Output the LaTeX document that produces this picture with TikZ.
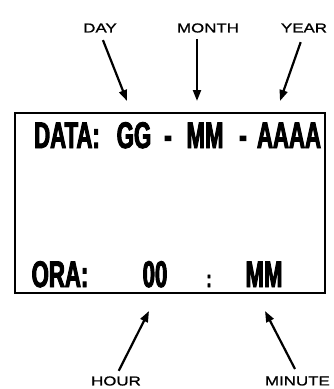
\documentclass[tikz,border=0pt]{standalone}
\usepackage{fontspec}
\usetikzlibrary{arrows.meta}
\newfontfamily\lcdfont[FakeStretch=0.6,FakeBold=2.5]{Liberation Sans Bold}
\newfontfamily\tagfont[FakeStretch=1.3,FakeBold=1]{Liberation Sans}
\tikzset{
  disp/.style={font=\lcdfont\fontsize{37}{37}\selectfont, inner sep=0pt, anchor=base},
  tag/.style={font=\tagfont\fontsize{13}{13}\selectfont, inner sep=0pt},
  pointer/.style={line width=2.2pt, -{Triangle[length=11pt,width=8pt]}},
  frame/.style={draw, line width=2pt}
}
\begin{document}
\begin{tikzpicture}[x=1pt,y=-1pt]
  \useasboundingbox (0,0) rectangle (334,389);

  % display frame
  \draw[frame] (15,113) rectangle (325,293);

  % date line
  \node[disp] (data) at (67,148) {DATA:};
  \node[disp] (gg)   at (134,148) {GG};
  \node[disp] (d1)   at (168,148) {-};
  \node[disp] (mm)   at (205,148) {MM};
  \node[disp] (d2)   at (243,148) {-};
  \node[disp] (aaaa) at (289,148) {AAAA};

  % time line
  \node[disp] (ora)  at (60,287) {ORA:};
  \node[disp] (hh)   at (155,287) {00};
  \node[disp, font=\lcdfont\fontsize{24}{24}\selectfont] (col) at (209,287) {:};
  \node[disp] (mi)   at (264,287) {MM};

  % field labels
  \node[tag] (lday)   at (100,28) {DAY};
  \node[tag] (lmonth) at (208,28) {MONTH};
  \node[tag] (lyear)  at (304,28) {YEAR};
  \node[tag] (lhour)  at (116,381) {HOUR};
  \node[tag, anchor=east] (lmin) at (330,381) {MINUTE};

  % arrow tips
  \coordinate (tday)   at (127,101);
  \coordinate (tmonth) at (197,101);
  \coordinate (tyear)  at (280,101);
  \coordinate (thour)  at (149,311);
  \coordinate (tmin)   at (265,311);
  \coordinate (smin)   at (295,369);

  \draw[pointer, shorten <=8pt] (lday.south) -- (tday);
  \draw[pointer, shorten <=6pt] (lmonth.south -| tmonth) -- (tmonth);
  \draw[pointer, shorten <=10pt] (lyear.south) -- (tyear);
  \draw[pointer, shorten <=6pt] (lhour.north) -- (thour);
  \draw[pointer] (smin) -- (tmin);
\end{tikzpicture}
\end{document}
